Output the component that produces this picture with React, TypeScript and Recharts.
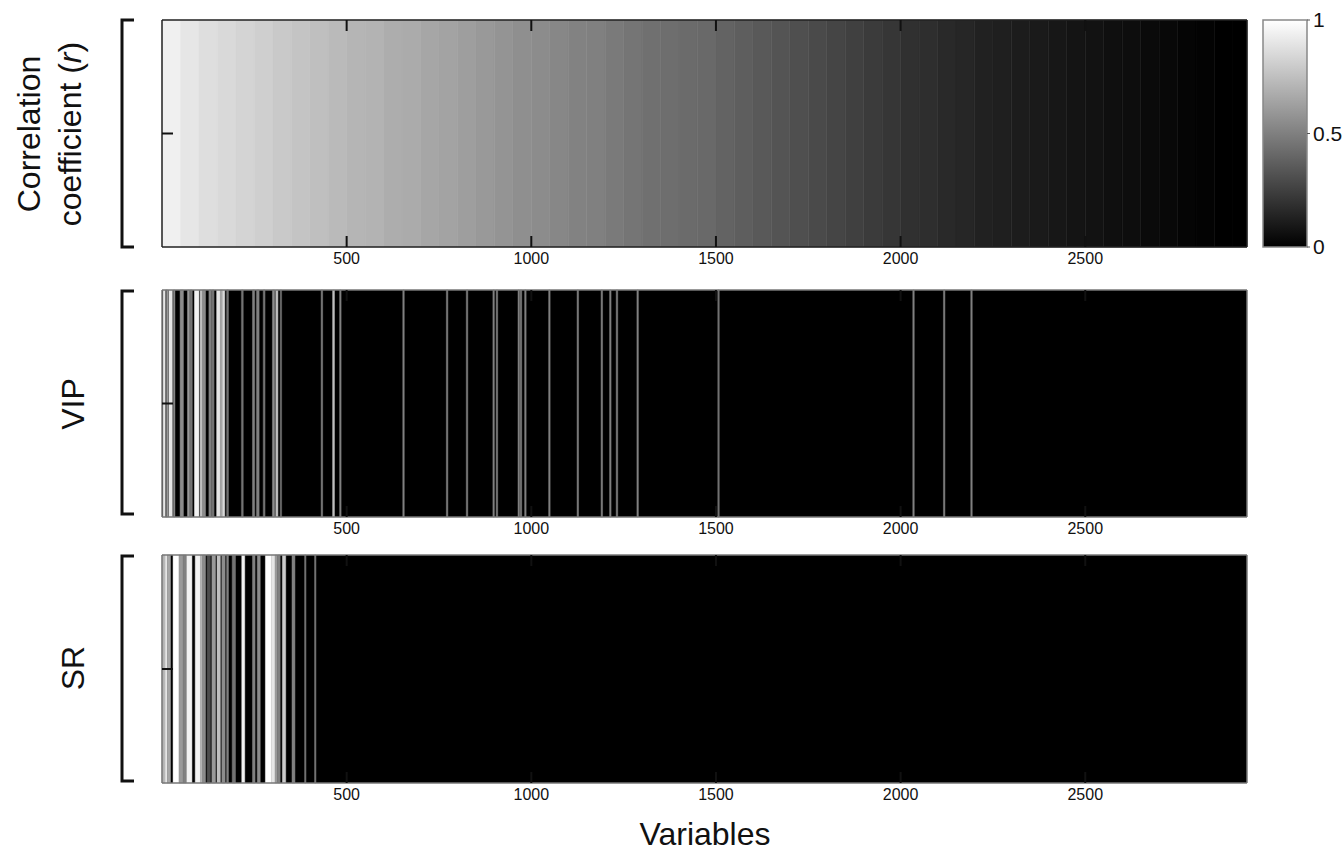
import React from "react";
import { ComposedChart, BarChart, Bar, Line, XAxis, YAxis, ReferenceArea } from "recharts";

const FONT = "Arial, 'Liberation Sans', Helvetica, sans-serif";

// x axis: variable index
const X_MAX = 2938;
const xTicks = [500, 1000, 1500, 2000, 2500];

// correlation coefficient, one value per band of 50 variables (sorted)
const CORR_STEP = 50;
const corrValues = [
  0.94, 0.9, 0.87, 0.85, 0.83, 0.81, 0.79, 0.77, 0.75, 0.73,
  0.71, 0.7, 0.68, 0.67, 0.65, 0.64, 0.62, 0.6, 0.58, 0.56,
  0.55, 0.53, 0.51, 0.5, 0.48, 0.46, 0.44, 0.43, 0.42, 0.41,
  0.39, 0.37, 0.35, 0.33, 0.31, 0.29, 0.27, 0.25, 0.23, 0.21,
  0.19, 0.18, 0.16, 0.15, 0.13, 0.12, 0.11, 0.1, 0.09, 0.08,
  0.07, 0.06, 0.05, 0.04, 0.03, 0.02, 0.01, 0, 0,
];

// VIP: [from, to, value] on a black (0) background
const vipLines: [number, number, number][] = [
  [3, 10, 0.9], [10, 13, 0.3], [13, 17, 0.6], [19, 28, 0.9], [31, 35, 0.55],
  [49, 58, 0.55], [69, 75, 0.6], [76, 82, 0.45], [88, 100, 0.95], [103, 110, 0.75],
  [110, 118, 0.55], [127, 134, 0.5], [135, 141, 0.45], [148, 158, 0.9], [158, 164, 0.65],
  [164, 170, 0.85], [175, 180, 0.45], [215, 220, 0.45], [245, 251, 0.5], [256, 263, 0.5],
  [274, 279, 0.45], [299, 305, 0.55], [308, 314, 0.75], [320, 324, 0.45],
  [431, 435, 0.5], [462, 467, 0.75], [481, 485, 0.5], [652, 656, 0.5], [770, 774, 0.5],
  [824, 828, 0.5], [896, 900, 0.5], [905, 909, 0.5], [964, 968, 0.5], [970, 974, 0.5],
  [982, 986, 0.5], [1047, 1051, 0.5], [1124, 1128, 0.5], [1189, 1193, 0.5], [1212, 1216, 0.5],
  [1230, 1234, 0.5], [1286, 1290, 0.5], [1505, 1509, 0.45], [2033, 2037, 0.5], [2116, 2120, 0.5],
  [2190, 2194, 0.5],
];

// SR: [from, to, value] on a black (0) background
const srLines: [number, number, number][] = [
  [0, 9, 0.7], [9, 14, 0.95], [14, 23, 0.65], [30, 46, 1.0], [46, 57, 0.6],
  [57, 66, 0.5], [67, 81, 0.95], [90, 104, 0.95], [104, 110, 0.7], [110, 118, 0.55],
  [122, 131, 0.3], [135, 145, 0.6], [149, 158, 0.75], [162, 171, 0.55], [175, 180, 0.5],
  [190, 199, 0.45], [216, 224, 0.95], [245, 252, 0.5], [258, 266, 0.55], [280, 296, 1.0],
  [296, 306, 0.9], [306, 313, 0.6], [314, 320, 0.5], [326, 335, 0.8], [352, 360, 0.5],
  [386, 390, 0.45], [413, 417, 0.45],
];

const colorbarTicks = [0, 0.5, 1];
const colorbarData = [{ name: "scale", v: 1 }];

const gray = (v: number) => {
  const g = Math.round(Math.max(0, Math.min(1, v)) * 255);
  return `rgb(${g},${g},${g})`;
};

type Seg = { x1: number; x2: number; v: number };

const corrSegs: Seg[] = corrValues.map((v, i) => ({
  x1: i * CORR_STEP,
  x2: Math.min(X_MAX, (i + 1) * CORR_STEP),
  v,
}));
const toSegs = (rows: [number, number, number][]): Seg[] =>
  rows.map(([x1, x2, v]) => ({ x1, x2, v }));

const CHART_W = 1250;
const xCommon = {
  type: "number" as const,
  dataKey: "x",
  domain: [0, X_MAX],
  allowDataOverflow: true,
  ticks: xTicks,
  interval: 0 as const,
};
const NoLabel = () => <g />;

function Strip({ plotTop, plotHeight, segs, background, frame }: {
  plotTop: number;
  plotHeight: number;
  segs: Seg[];
  background?: number;
  frame: string;
}) {
  const line = { stroke: frame, strokeWidth: 1.5 };
  const tickLine = { stroke: "#111", strokeWidth: 2 };
  const rows = [{ x: 0, y: 0.5 }, ...segs.map((s) => ({ x: s.x1, y: 0.5 })), { x: X_MAX, y: 0.5 }];
  const h = plotHeight + 40;
  const pos = { position: "absolute" as const, left: 0, top: plotTop - 10 };
  const noLine = { stroke: "none", dot: false, activeDot: false, isAnimationActive: false } as const;

  return (
    <>
      {/* heat strip */}
      <div style={pos}>
        <ComposedChart
          width={CHART_W}
          height={h}
          data={rows}
          margin={{ top: 10, right: 3, left: 162, bottom: 30 }}
        >
          <XAxis {...xCommon} xAxisId="main" hide />
          <YAxis yAxisId="l" type="number" domain={[0, 1]} allowDataOverflow hide />
          <Line xAxisId="main" yAxisId="l" dataKey="y" {...noLine} />
          {background !== undefined && (
            <ReferenceArea
              xAxisId="main" yAxisId="l"
              x1={0} x2={X_MAX} y1={0} y2={1}
              fill={gray(background)} fillOpacity={1} stroke="none"
            />
          )}
          {segs.map((s, i) => (
            <ReferenceArea
              key={i}
              xAxisId="main" yAxisId="l"
              x1={s.x1} x2={s.x2} y1={0} y2={1}
              fill={gray(s.v)} fillOpacity={1}
              stroke={gray(s.v)} strokeWidth={0.5}
            />
          ))}
        </ComposedChart>
      </div>
      {/* box, inward ticks and tick labels on top */}
      <div style={pos}>
        <ComposedChart
          width={CHART_W}
          height={h}
          data={rows}
          margin={{ top: 10, right: 3, left: 162, bottom: 0 }}
        >
          <Line xAxisId="main" yAxisId="l" dataKey="y" {...noLine} />
          <Line xAxisId="bin" yAxisId="l" dataKey="y" {...noLine} />
          <Line xAxisId="top" yAxisId="r" dataKey="y" {...noLine} />
          <XAxis
            {...xCommon}
            xAxisId="main" height={30}
            tickLine={false} tickSize={0} tickMargin={6}
            axisLine={line}
            tick={{ fill: "#111", fontSize: 16, fontFamily: FONT }}
          />
          <XAxis
            {...xCommon}
            xAxisId="bin" orientation="bottom" mirror height={1}
            tick={NoLabel} tickSize={11} tickLine={tickLine} axisLine={false}
          />
          <XAxis
            {...xCommon}
            xAxisId="top" orientation="top" mirror height={1}
            tick={NoLabel} tickSize={11} tickLine={tickLine} axisLine={line}
          />
          <YAxis
            yAxisId="l" type="number" domain={[0, 1]} allowDataOverflow ticks={[0.5]} interval={0}
            mirror width={1} tick={NoLabel} tickSize={11} tickLine={tickLine} axisLine={line}
          />
          <YAxis
            yAxisId="r" orientation="right" type="number" domain={[0, 1]} allowDataOverflow
            ticks={[0.5]} interval={0}
            mirror width={1} tick={NoLabel} tickLine={false} axisLine={line}
          />
        </ComposedChart>
      </div>
    </>
  );
}

function Colorbar() {
  return (
    <div style={{ position: "absolute", left: 1255, top: 0 }}>
      <BarChart
        width={89}
        height={267}
        data={colorbarData}
        margin={{ top: 20, right: 0, left: 8, bottom: 20 }}
        barCategoryGap={0}
      >
        <defs>
          <linearGradient id="cbGrad" x1="0" y1="0" x2="0" y2="1">
            <stop offset="0%" stopColor="#ffffff" />
            <stop offset="100%" stopColor="#000000" />
          </linearGradient>
        </defs>
        <XAxis dataKey="name" hide />
        <YAxis
          orientation="right" type="number" domain={[0, 1]} ticks={colorbarTicks}
          interval={0} width={37} axisLine={false}
          tickSize={3} tickMargin={3} tickLine={{ stroke: "#555" }}
          tick={{ fill: "#111", fontSize: 21, fontFamily: FONT }}
        />
        <Bar dataKey="v" fill="url(#cbGrad)" stroke="#888" strokeWidth={1.5} isAnimationActive={false} />
      </BarChart>
    </div>
  );
}

const brackets: [number, number][] = [[20, 247], [291, 514], [556, 781]];

export default function App() {
  return (
    <div style={{ position: "absolute", left: 0, top: 0, width: 1344, height: 853, background: "#fff" }}>
      <Strip plotTop={20} plotHeight={227} segs={corrSegs} frame="#222" />
      <Strip plotTop={290} plotHeight={227} segs={toSegs(vipLines)} background={0} frame="#777" />
      <Strip plotTop={555} plotHeight={228} segs={toSegs(srLines)} background={0} frame="#777" />
      <Colorbar />
      <svg
        width={1344}
        height={853}
        style={{ position: "absolute", left: 0, top: 0, pointerEvents: "none" }}
        fontFamily={FONT}
        fill="#111"
      >
        {brackets.map(([t, b], i) => (
          <path key={i} d={`M134,${t} H122 V${b} H134`} stroke="#111" strokeWidth={3} fill="none" />
        ))}
        <text transform="translate(40,134) rotate(-90)" textAnchor="middle" fontSize={32}>
          Correlation
        </text>
        <text transform="translate(81,134) rotate(-90)" textAnchor="middle" fontSize={32}>
          coefficient (<tspan fontStyle="italic">r</tspan>)
        </text>
        <text transform="translate(84,404) rotate(-90)" textAnchor="middle" fontSize={32}>
          VIP
        </text>
        <text transform="translate(84,668) rotate(-90)" textAnchor="middle" fontSize={32}>
          SR
        </text>
        <text x={705} y={845} textAnchor="middle" fontSize={32}>
          Variables
        </text>
      </svg>
    </div>
  );
}
